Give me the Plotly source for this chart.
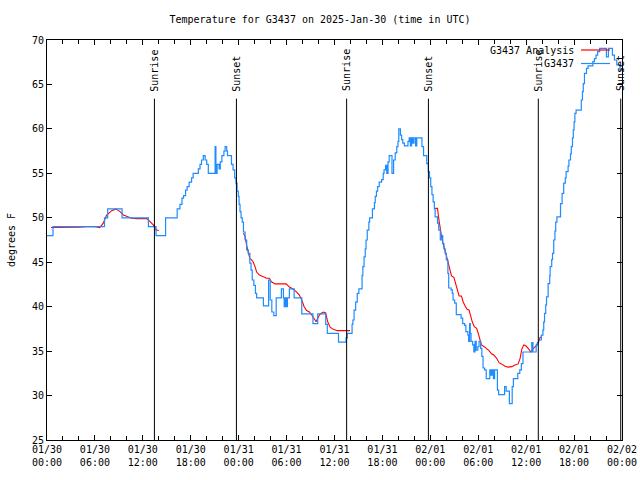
import pandas as pd
import plotly.graph_objects as go

START = pd.Timestamp("2025-01-30 00:00")

# G3437 observations: (hours since 01/30 00:00 UTC, degrees F), step changes
blue_hours = [0.0, 0.75, 7.2, 7.6, 9.4, 12.7, 13.65, 14.85, 16.3, 16.65, 16.9, 17.1, 17.35, 17.55, 17.8,
              18.1, 18.3, 18.95, 19.16, 19.35, 19.57, 19.8, 20.0, 20.2, 21.05, 21.15, 21.3, 21.55, 21.7,
              21.9, 22.15, 22.3, 22.5, 22.6, 23.1, 23.3, 23.5, 23.67, 23.8, 23.95, 24.05, 24.17, 24.3,
              24.45, 24.6, 24.8, 25.0, 25.2, 25.4, 25.55, 25.7, 25.9, 26.1, 26.25, 27.1, 27.75, 27.95,
              28.15, 28.4, 28.7, 29.35, 29.6, 29.7, 29.85, 29.95, 30.1, 30.35, 30.95, 31.9, 33.3, 33.9,
              34.9, 35.1, 36.5, 37.45, 37.6, 38.2, 38.3, 38.45, 38.65, 38.85, 39.05, 39.45, 39.55, 39.7,
              39.85, 39.95, 40.1, 40.3, 40.4, 40.75, 41.0, 41.1, 41.25, 41.4, 41.6, 41.9, 42.1, 42.2,
              42.4, 42.55, 42.7, 42.85, 43.2, 43.4, 43.6, 43.8, 43.95, 44.05, 44.25, 44.4, 44.55, 44.75,
              45.2, 45.35, 45.5, 45.65, 45.8, 45.95, 46.15, 46.3, 46.95, 47.15, 47.55, 47.75, 47.9,
              48.05, 48.2, 48.35, 48.5, 48.6, 48.9, 49.05, 49.25, 49.45, 49.55, 49.7, 49.85, 50.0, 50.2,
              50.3, 50.6, 50.75, 50.85, 51.05, 51.25, 51.85, 52.05, 52.3, 52.45, 52.7, 52.8, 52.92,
              53.0, 53.1, 53.3, 53.45, 53.6, 53.75, 53.95, 54.1, 54.3, 54.45, 54.6, 54.8, 55.0, 55.45,
              55.6, 55.75, 55.9, 56.05, 56.4, 56.55, 57.3, 57.5, 57.9, 58.25, 58.4, 58.95, 59.2, 59.4,
              59.6, 60.7, 60.85, 61.25, 61.4, 61.55, 61.9, 62.1, 62.2, 62.3, 62.45, 62.55, 62.75, 62.95,
              63.0, 63.2, 63.3, 63.45, 63.6, 63.7, 63.85, 64.3, 64.5, 64.7, 64.9, 65.0, 65.25, 65.35,
              65.55, 65.65, 65.8, 65.9, 66.0, 66.1, 66.25, 66.9, 67.05, 67.15, 67.3, 67.55, 67.75,
              68.35, 68.55, 68.75, 68.95, 69.2, 70.05, 70.3, 70.8, 71.05, 71.35, 71.75, 72.0]
blue_temps = [48, 49, 50, 51, 50, 49, 48, 50, 51.0, 51.5, 52.2, 52.5, 53.1, 53.5, 54.0,
              54.5, 55.0, 55.5, 56.0, 56.5, 57.0, 56.5, 56.0, 55.0, 58.0, 55.0, 56.0, 55.5, 56.3,
              57.0, 57.5, 58.0, 57.5, 57.0, 56.0, 55.4, 54.5, 53.9, 53.0, 52.4, 51.5, 50.7, 50.0,
              49.5, 48.4, 47.5, 46.4, 46.0, 44.9, 44.1, 43.0, 42.4, 41.5, 41.0, 40.1, 43.0, 40.75,
              39.4, 39.0, 41.0, 42.0, 41.0, 40.0, 41.0, 40.0, 41.0, 42.0, 41.0, 39.2, 38.1, 39.2,
              38.0, 37.0, 36.0, 36.5, 37.0, 38.0, 38.5, 39.6, 40.5, 41.5, 42.0, 43.5, 44.5, 45.6,
              46.5, 47.5, 48.6, 49.5, 50.0, 51.0, 51.7, 52.4, 53.0, 53.5, 54.0, 54.3, 55.0, 55.4,
              55.9, 55.0, 56.3, 57.0, 55.0, 56.5, 57.3, 58.0, 58.6, 60.0, 59.3, 58.8, 58.4, 58.1,
              58.6, 59.0, 58.1, 59.0, 58.4, 59.0, 58.1, 59.0, 58.0, 57.0, 56.1, 55.2, 54.5,
              53.5, 52.6, 51.8, 51.0, 50.1, 49.4, 48.6, 47.5, 48.0, 47.1, 46.5, 46.0, 45.25, 43.75,
              42.1, 41.9, 41.5, 40.75, 40.4, 39.1, 38.7, 38.1, 37.9, 37.2, 36.8, 36.1, 38.1,
              37.0, 36.1, 35.7, 34.9, 36.1, 35.1, 35.5, 36.1, 35.3, 34.4, 33.1, 32.9, 31.9, 32.9,
              32.3, 32.9, 31.9, 32.9, 30.6, 30.1, 31.0, 30.5, 29.1, 31.0, 31.9, 32.5, 32.9, 33.6,
              34.9, 35.95, 34.9, 35.7, 35.95, 36.25, 36.8, 37.4, 38.3, 39.25, 40.2, 41.1, 42.6, 43.5,
              44.5, 45.3, 46.0, 47.5, 48.5, 49.5, 50.1, 51.6, 52.75, 53.9, 54.5, 55.2, 55.8, 56.5,
              57.2, 58.0, 59.0, 59.9, 60.8, 61.75, 62.1, 63.25, 64.2, 65.1, 66.25, 66.8, 67.1,
              67.56, 67.9, 68.3, 68.7, 69.06, 68.1, 69.06, 68.3, 67.75, 67.2, 66.6, 66.6]

# G3437 Analysis (None = gap)
red_hours = [0.5, 1, 2, 3, 4, 5, 6, 6.6, 7.05, 7.47, 8.1, 8.64, 9.14, 9.56, 10.05, 10.6, 11.2, 12.5,
             12.9, 13.3, 13.7, 14.0, 19.0,
             24.6, 24.8, 25.0, 25.2, 25.4, 25.6, 25.8, 26.05, 26.25, 26.6, 27.0, 27.5, 27.85, 28.1,
             28.55, 29.1, 29.6, 29.95, 30.35, 30.8, 31.2, 31.6, 31.9, 32.2, 32.5, 32.85, 33.15, 33.45,
             33.7, 34.0, 34.25, 34.6, 34.9, 35.15, 35.45, 35.85, 36.35, 36.9, 37.3, 37.5, 37.95, 43.0,
             48.6, 48.9, 49.05, 49.2, 49.4, 49.6, 49.85, 50.05, 50.25, 50.45, 50.65, 50.95, 51.2, 51.4,
             51.6, 51.9, 52.1, 52.4, 52.6, 52.85, 53.05, 53.25, 53.5, 53.8, 54.0, 54.2, 54.4, 54.75,
             55.05, 55.35, 55.65, 55.95, 56.3, 56.6, 56.9, 57.35, 57.75, 58.2, 58.6, 59.0, 59.25,
             59.45, 59.7, 59.95, 60.25, 60.6, 60.9, 61.25, 61.55, 61.75, 61.95]
red_temps = [48.9, 48.9, 48.9, 48.9, 48.95, 49.0, 49.0, 48.9, 49.4, 50.3, 50.8, 51.0, 50.7, 50.3, 50.1,
             49.94, 49.9, 49.9, 49.56, 49.2, 48.6, 48.6, None,
             48.25, 47.9, 46.9, 46.2, 45.4, 45.3, 45.06, 44.5, 43.9, 43.56, 43.4, 43.2, 43.2, 42.8,
             42.56, 42.56, 42.6, 42.56, 42.2, 42.0, 41.7, 41.3, 40.75, 40.0, 39.56, 39.4, 39.06, 38.6,
             38.3, 38.9, 39.2, 39.4, 39.3, 38.3, 37.7, 37.45, 37.3, 37.3, 37.3, 37.3, 37.3, None,
             51.06, 51.06, 49.94, 49.0, 47.9, 47.1, 46.4, 45.6, 44.9, 44.3, 43.45, 43.3, 42.4, 41.7,
             41.2, 41.2, 40.56, 40.0, 39.7, 39.6, 38.9, 38.3, 37.75, 37.56, 37.0, 36.25, 35.7, 35.5,
             35.3, 35.06, 34.7, 34.56, 34.2, 33.7, 33.56, 33.3, 33.2, 33.25, 33.44, 33.56, 34.2,
             35.2, 35.7, 35.6, 35.3, 34.9, 35.3, 35.6, 36.06, 36.56, 36.56]

sun_hours = [13.45, 23.72, 37.52, 47.76, 61.52, 71.84]
sun_labels = ["Sunrise", "Sunset", "Sunrise", "Sunset", "Sunrise", "Sunset"]

tick_hours = list(range(0, 73, 6))
tick_labels = ["01/30<br>00:00", "01/30<br>06:00", "01/30<br>12:00", "01/30<br>18:00",
               "01/31<br>00:00", "01/31<br>06:00", "01/31<br>12:00", "01/31<br>18:00",
               "02/01<br>00:00", "02/01<br>06:00", "02/01<br>12:00", "02/01<br>18:00",
               "02/02<br>00:00"]


def t(h):
    return START + pd.Timedelta(hours=h)


MONO = "DejaVu Sans Mono"
BLUE = "#1E8CFF"
RED = "#FF0000"

fig = go.Figure()
fig.add_trace(go.Scatter(x=[t(h) for h in red_hours], y=red_temps, mode="lines",
                         line=dict(color=RED, width=1.1), connectgaps=False,
                         name="G3437 Analysis", showlegend=False))
fig.add_trace(go.Scatter(x=[t(h) for h in blue_hours], y=blue_temps, mode="lines",
                         line=dict(color=BLUE, width=1.2, shape="hv"),
                         name="G3437", showlegend=False))

for h, lab in zip(sun_hours, sun_labels):
    fig.add_shape(type="line", xref="x", yref="y", x0=t(h), x1=t(h), y0=25, y1=63.4,
                  line=dict(color="black", width=1))
    fig.add_annotation(x=t(h), y=64.0, xref="x", yref="y", text=lab, textangle=-90,
                       showarrow=False, yanchor="bottom", xanchor="center",
                       font=dict(family=MONO, size=10, color="black"))

# legend (text to the left of the line sample)
for i, (name, col) in enumerate([("G3437 Analysis", RED), ("G3437", BLUE)]):
    yp = 1 - (10 + 13.5 * i) / 400
    fig.add_annotation(x=(576 - 47) / 575, y=yp, xref="paper", yref="paper", text=name,
                       showarrow=False, xanchor="right", yanchor="middle",
                       font=dict(family=MONO, size=10, color="black"))
    fig.add_shape(type="line", xref="paper", yref="paper", x0=(581 - 47) / 575, x1=(610 - 47) / 575,
                  y0=yp, y1=yp, line=dict(color=col, width=1.2))

fig.update_layout(
    width=640, height=480,
    margin=dict(l=47, r=18, t=40, b=40, autoexpand=False),
    paper_bgcolor="white", plot_bgcolor="white",
    title=dict(text="Temperature for G3437 on 2025-Jan-30 (time in UTC)", x=0.5, xanchor="center",
               y=1 - 19 / 480, yanchor="middle", font=dict(family=MONO, size=10, color="black")),
    font=dict(family=MONO, size=10, color="black"),
    showlegend=False,
)
fig.update_xaxes(range=[t(0), t(72)], tickmode="array", tickvals=[t(h) for h in tick_hours],
                 ticktext=tick_labels, ticks="inside", ticklen=5, tickcolor="black",
                 showline=True, linecolor="black", linewidth=1, mirror="allticks", showgrid=False,
                 zeroline=False, tickfont=dict(family=MONO, size=10),
                 minor=dict(tickmode="array", tickvals=[t(h) for h in range(0, 73, 2)],
                            ticks="inside", ticklen=4, tickcolor="black", showgrid=False))
fig.update_yaxes(range=[25, 70], tick0=25, dtick=5, ticks="inside", ticklen=5, tickcolor="black",
                 showline=True, linecolor="black", linewidth=1, mirror="allticks", showgrid=False,
                 zeroline=False, tickfont=dict(family=MONO, size=10),
                 title=dict(text="degrees F", font=dict(family=MONO, size=10), standoff=14))

fig.write_html("out.html")
